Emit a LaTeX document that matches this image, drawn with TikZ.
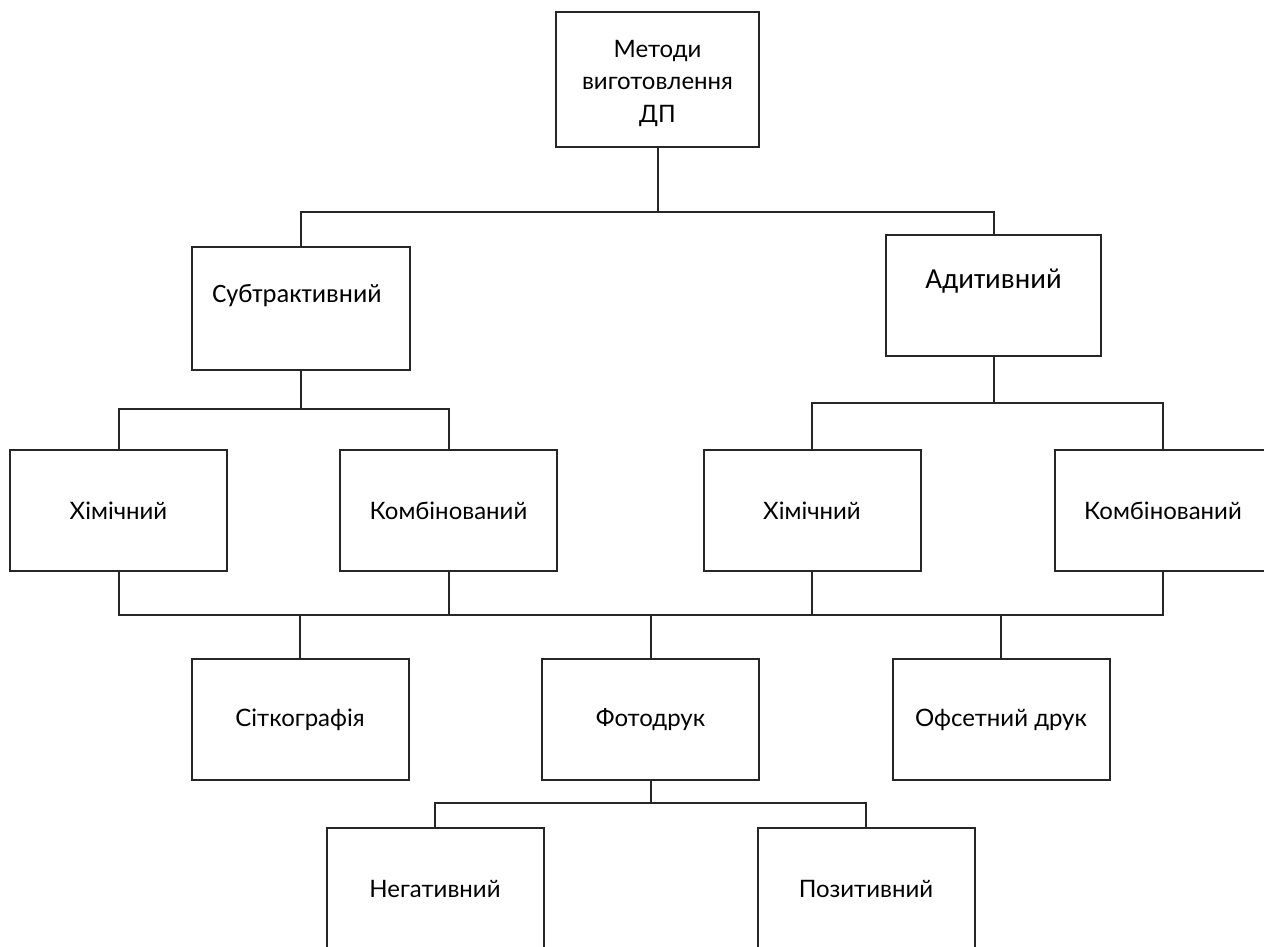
\documentclass[tikz,border=0pt]{standalone}
\usepackage{fontspec}
\setmainfont{Lato}
\newfontfamily\calfont{Carlito}
\tikzset{
  box/.style={draw=black!85, line width=2pt, fill=white, inner sep=0pt, minimum width=217pt, minimum height=121pt, font=\fontsize{24}{29}\selectfont, align=center},
  conn/.style={draw=black!85, line width=2pt},
}
\begin{document}
\begin{tikzpicture}[x=1pt,y=-1pt]
\useasboundingbox (0,0) rectangle (1264,946);
\clip (0,0) rectangle (1264,946);
\fill[white] (0,0) rectangle (1264,946);

\coordinate (b1) at (0,212);
\coordinate (b2l) at (0,409);
\coordinate (b2r) at (0,403);
\coordinate (b3) at (0,615);
\coordinate (b4) at (0,803);

\node[box, minimum width=203pt, minimum height=135pt] (top) at (657.5,79.5) {};
\node[font=\fontsize{24}{32.5}\selectfont, align=center] (topt) at (657.5,83) {Методи\\виготовлення\\ДП};
\node[box, minimum width=218pt, minimum height=123pt] (sub) at (301,308.5) {};
\node[font=\calfont\fontsize{26.5}{30}\selectfont] (subt) at (297,296) {Субтрактивний};
\node[box, line width=2.8pt, minimum width=215pt, minimum height=121pt] (adit) at (993.5,295.5) {};
\node[font=\calfont\fontsize{29}{32}\selectfont] (aditt) at (993.5,281) {Адитивний};

\node[box] (h1) at (118.5,510.5) {Хімічний};
\node[box] (k1) at (448.5,510.5) {Комбінований};
\node[box] (h2) at (812,510.5) {Хімічний};
\node[box] (k2) at (1163,510.5) {Комбінований};

\node[box] (sit) at (300,719.5) {Сіткографія};
\node[box] (foto) at (650.5,719.5) {Фотодрук};
\node[box] (ofs) at (1001,719.5) {Офсетний друк};

\node[box] (neg) at (435,888.5) {Негативний};
\node[box] (poz) at (866,888.5) {Позитивний};

\draw[conn] (top.south) -- (top.south |- b1);
\draw[conn] (sub.north) |- (adit.north |- b1) -- (adit.north);

\draw[conn] (sub.south) -- (sub.south |- b2l);
\draw[conn] (h1.north) |- (k1.north |- b2l) -- (k1.north);
\draw[conn] (adit.south) -- (adit.south |- b2r);
\draw[conn] (h2.north) |- (k2.north |- b2r) -- (k2.north);

\draw[conn] (h1.south) |- (k2.south |- b3) -- (k2.south);
\draw[conn] (k1.south) -- (k1.south |- b3);
\draw[conn] (h2.south) -- (h2.south |- b3);
\draw[conn] (sit.north) -- (sit.north |- b3);
\draw[conn] (foto.north) -- (foto.north |- b3);
\draw[conn] (ofs.north) -- (ofs.north |- b3);

\draw[conn] (foto.south) -- (foto.south |- b4);
\draw[conn] (neg.north) |- (poz.north |- b4) -- (poz.north);
\end{tikzpicture}
\end{document}
